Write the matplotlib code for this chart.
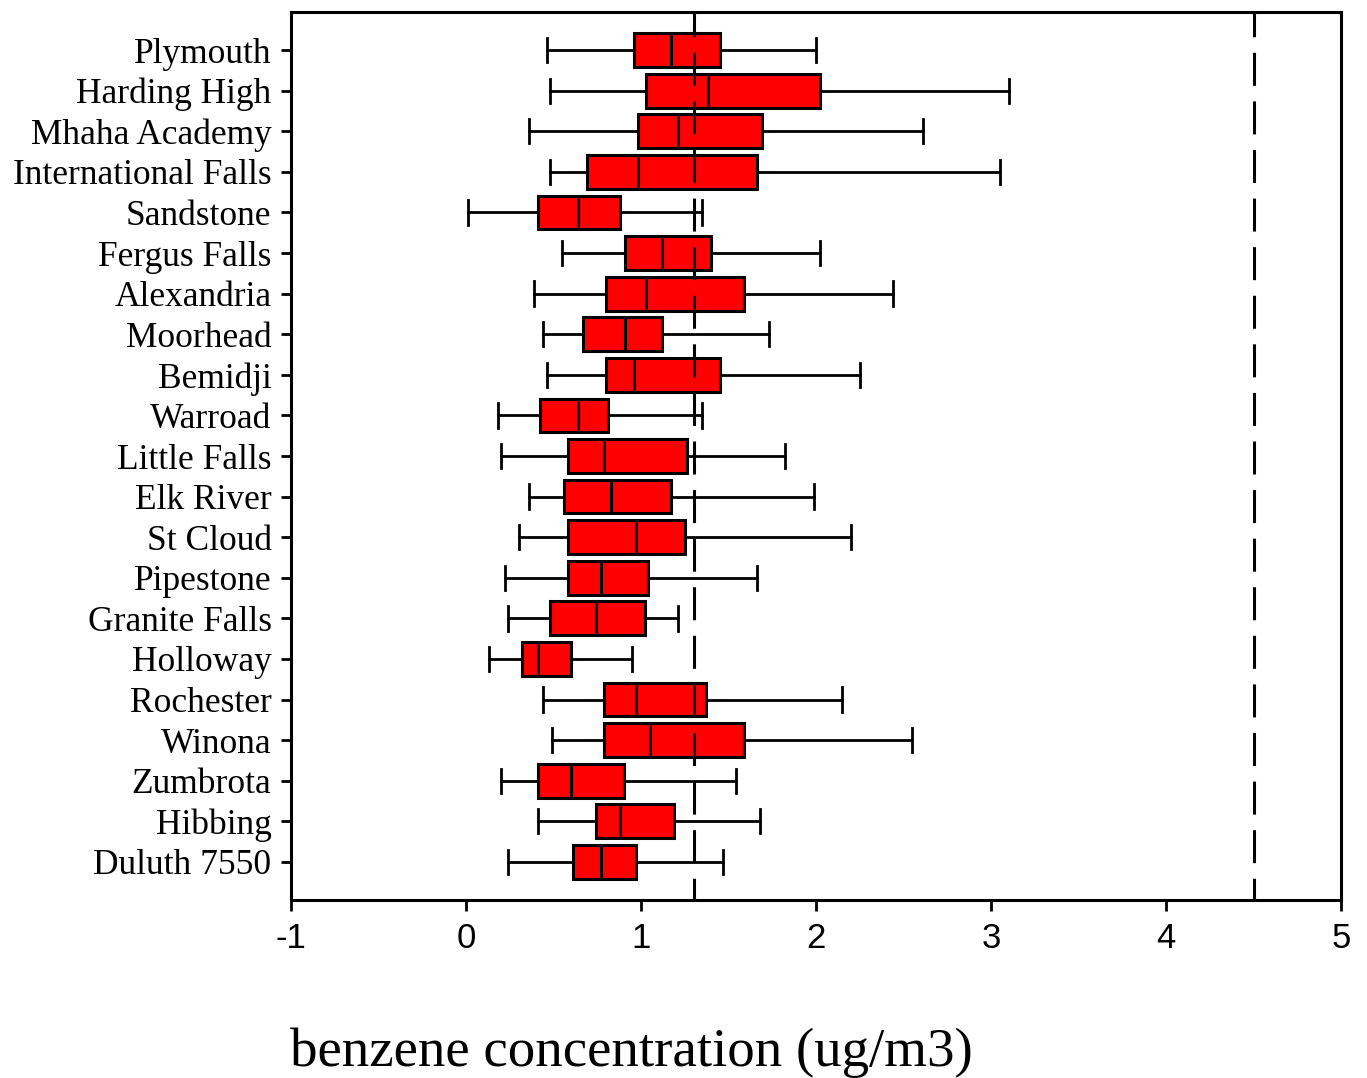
import matplotlib
matplotlib.use('Agg')
import numpy as np
import matplotlib.pyplot as plt

# sites, top to bottom
sites = ['Plymouth', 'Harding High', 'Mhaha Academy', 'International Falls',
         'Sandstone', 'Fergus Falls', 'Alexandria', 'Moorhead', 'Bemidji',
         'Warroad', 'Little Falls', 'Elk River', 'St Cloud', 'Pipestone',
         'Granite Falls', 'Holloway', 'Rochester', 'Winona', 'Zumbrota',
         'Hibbing', 'Duluth 7550']

# box statistics (ug/m3)
whislo = [0.46, 0.48, 0.36, 0.48, 0.01, 0.55, 0.39, 0.44, 0.46, 0.18, 0.20,
          0.36, 0.30, 0.22, 0.24, 0.13, 0.44, 0.49, 0.20, 0.41, 0.24]
q1 = [0.96, 1.03, 0.98, 0.69, 0.41, 0.91, 0.80, 0.67, 0.80, 0.42, 0.58,
      0.56, 0.58, 0.58, 0.48, 0.32, 0.79, 0.79, 0.41, 0.74, 0.61]
med = [1.17, 1.38, 1.21, 0.98, 0.64, 1.12, 1.03, 0.91, 0.96, 0.64, 0.79,
       0.83, 0.97, 0.77, 0.74, 0.41, 0.97, 1.05, 0.60, 0.88, 0.77]
q3 = [1.45, 2.02, 1.69, 1.66, 0.88, 1.40, 1.59, 1.12, 1.45, 0.81, 1.26,
      1.17, 1.25, 1.04, 1.02, 0.60, 1.37, 1.59, 0.90, 1.19, 0.97]
whishi = [2.00, 3.10, 2.61, 3.05, 1.35, 2.02, 2.44, 1.73, 2.25, 1.35, 1.82,
          1.99, 2.20, 1.66, 1.21, 0.95, 2.15, 2.55, 1.54, 1.68, 1.47]

ref_solid = 1.3
ref_dashed = 4.5
xticks = [-1, 0, 1, 2, 3, 4, 5]

stats = []
for i in range(len(sites)):
    stats.append({'whislo': whislo[i], 'q1': q1[i], 'med': med[i],
                  'q3': q3[i], 'whishi': whishi[i], 'fliers': []})

fig = plt.figure(figsize=(13.67, 10.78), dpi=100)
ax = fig.add_axes([291/1367., 1-900/1078., 1050/1367., 888/1078.])

lw = 2.2
pos = np.arange(len(sites))
ax.bxp(stats, positions=pos, vert=False, widths=0.83, patch_artist=True,
       showfliers=False, capwidths=0.6,
       boxprops=dict(facecolor='#ff0000', edgecolor='black', linewidth=lw),
       medianprops=dict(color='black', linewidth=lw),
       whiskerprops=dict(color='black', linewidth=2.0),
       capprops=dict(color='black', linewidth=2.0))

dash = (2.7, (10.8, 5.1))
ax.axvline(ref_solid, ymin=1, ymax=0, color='black', linewidth=lw,
           linestyle=dash, zorder=5)
ax.axvline(ref_dashed, ymin=1, ymax=0, color='black', linewidth=lw,
           linestyle=dash, zorder=5)

ax.set_xlim(-1, 5)
ax.set_ylim(len(sites) - 1 + 0.94, -0.94)
ax.set_xticks(xticks)
ax.set_xticklabels([str(t) for t in xticks], family='Liberation Sans',
                   fontsize=25)
ax.set_yticks(pos)
ax.set_yticklabels(sites, family='Liberation Serif', fontsize=25.5)
ax.tick_params(axis='x', length=8, width=2, pad=8, direction='out')
ax.tick_params(axis='y', length=7, width=2, pad=7, direction='out')
for s in ax.spines.values():
    s.set_linewidth(2.2)

fig.text(631/1367., 1-1066/1078., 'benzene concentration (ug/m3)',
         family='Liberation Serif', fontsize=39.5, ha='center', va='baseline')

fig.savefig('out.png', dpi=100)
